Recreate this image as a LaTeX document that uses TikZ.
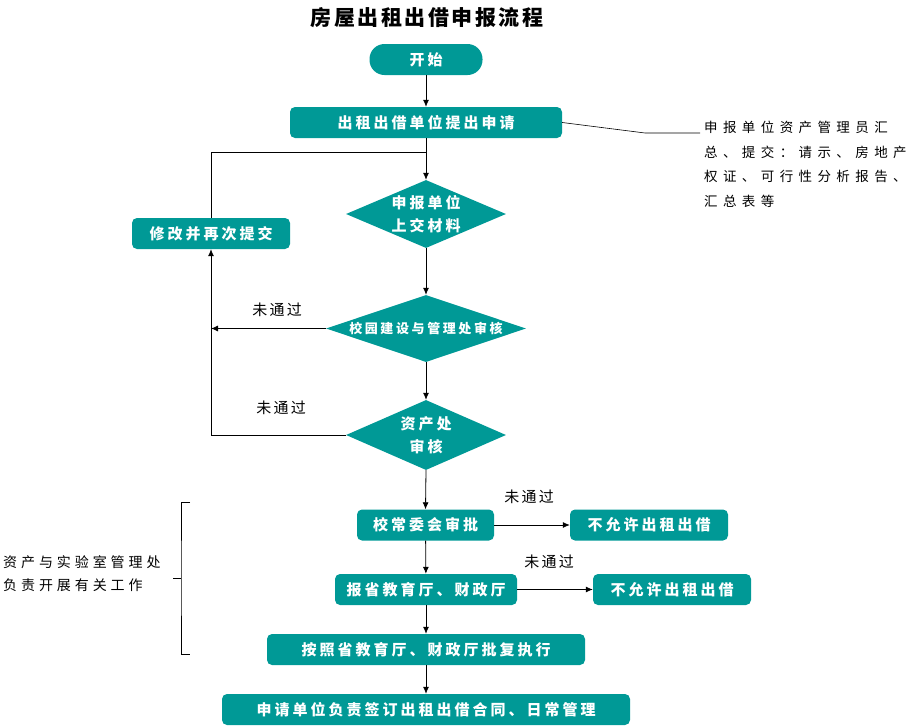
\documentclass[tikz,border=0pt]{standalone}
\usepackage{fontspec}
\setmainfont{Noto Sans CJK SC}
\usetikzlibrary{shapes.geometric,arrows.meta}
\definecolor{tealc}{RGB}{0,153,150}
\newcommand\boxfnt{\fontsize{15}{23}\selectfont\bfseries\addfontfeatures{LetterSpace=20}}
\newcommand\smallboxfnt{\fontsize{13}{15}\selectfont\bfseries\addfontfeatures{LetterSpace=20}}
\newcommand\lblfnt{\fontsize{15}{16}\selectfont\addfontfeatures{LetterSpace=15}}
\newcommand\notefnt{\fontsize{13.5}{24.5}\selectfont\addfontfeatures{LetterSpace=40}}
\newcommand\bracefnt{\fontsize{14}{23}\selectfont\addfontfeatures{LetterSpace=28}}
\newcommand\titlefnt{\fontsize{21}{22}\selectfont\bfseries\addfontfeatures{LetterSpace=12}}
\begin{document}
\begin{tikzpicture}[x=1pt,y=-1pt,
  box/.style={fill=tealc, draw=none, rounded corners=5pt, text=white, font=\boxfnt, inner sep=0pt, minimum height=31pt},
  dia/.style={diamond, fill=tealc, draw=none, text=white, inner sep=0pt, font=\boxfnt, align=center},
  arr/.style={-{Latex[length=7pt,width=6pt]}, line width=0.8pt},
  ln/.style={line width=0.8pt},
  lbl/.style={font=\lblfnt, inner sep=0pt}]
\useasboundingbox (0,0) rectangle (913,726);
\node[font=\titlefnt, inner sep=0pt] (title) at (427,18) {房屋出租出借申报流程};
\node[box, rounded corners=15pt, minimum width=113pt] (start) at (426,59.5) {开始};
\node[box, minimum width=272pt] (apply) at (426,122.5) {出租出借单位提出申请};
\node[dia, aspect=2.35, minimum width=160pt, minimum height=68pt] (d1) at (426,214) {申报单位\\上交材料};
\node[box, minimum width=158pt] (modify) at (211,233.5) {修改并再次提交};
\node[dia, aspect=3, minimum width=200pt, minimum height=67pt, font=\smallboxfnt] (d2) at (426,328.5) {校园建设与管理处审核};
\node[dia, aspect=2.3, minimum width=160pt, minimum height=70pt] (d3) at (426,435) {资产处\\审核};
\node[box, minimum width=137pt] (cw) at (425.5,525) {校常委会审批};
\node[box, minimum width=158pt] (no1) at (649,525) {不允许出租出借};
\node[box, minimum width=182pt] (sj) at (426,589.5) {报省教育厅、财政厅};
\node[box, minimum width=158pt] (no2) at (672,589.5) {不允许出租出借};
\node[box, minimum width=318pt] (exec) at (426,649.5) {按照省教育厅、财政厅批复执行};
\node[box, minimum width=408pt] (sign) at (426,709.5) {申请单位负责签订出租出借合同、日常管理};
% note
\node[font=\notefnt, anchor=north west, align=left, inner sep=0pt] (note) at (704,121) {申报单位资产管理员汇\\总、提交：请示、房地产\\权证、可行性分析报告、\\汇总表等};
\coordinate (nb) at (645,133);
\coordinate (ne) at (700,133);
\draw[line width=0.6pt] (apply.east) -- (nb) -- (ne);
% connectors
\coordinate (j1) at (426,152);
\coordinate (j2) at (211,328.5);
\draw[arr] (start) -- (apply);
\draw[arr] (apply) -- (d1.north);
\draw[ln] (j1) -| (modify.north);
\draw[arr] (d1.south) -- (d2.north);
\draw[arr] (d2.west) -- (j2);
\draw[arr] (d2.south) -- (d3.north);
\draw[arr] (d3.west) -| (modify.south);
\draw[arr] (d3.south) -- (cw.north);
\draw[arr] (cw) -- (no1);
\draw[arr] (cw) -- (sj);
\draw[arr] (sj) -- (no2);
\draw[arr] (sj) -- (exec);
\draw[arr] (exec) -- (sign);
% labels
\node[lbl] (l1) at (277,310) {未通过};
\node[lbl] (l2) at (281,408) {未通过};
\node[lbl] (l3) at (529,497) {未通过};
\node[lbl] (l4) at (549,562) {未通过};
% brace
\coordinate (bt) at (190,502);
\coordinate (bm) at (181,578);
\coordinate (bb) at (190,654);
\coordinate (bp) at (173,578);
\draw[line width=0.7pt] (bt) -| (bm) |- (bb);
\draw[line width=0.7pt] (bm) -- (bp);
\node[font=\bracefnt, anchor=west, align=left, inner sep=0pt] (bn) at (3,574) {资产与实验室管理处\\负责开展有关工作};
\end{tikzpicture}
\end{document}
